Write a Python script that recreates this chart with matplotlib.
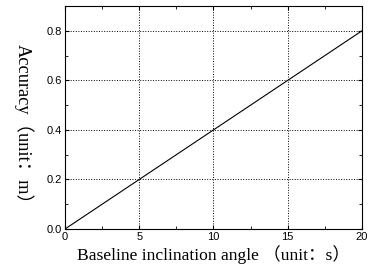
import matplotlib
matplotlib.use("Agg")
import matplotlib.pyplot as plt
from matplotlib.ticker import MultipleLocator

angle = [0, 5, 10, 15, 20]
accuracy = [0.0, 0.2, 0.4, 0.6, 0.8]

fig = plt.figure(figsize=(3.69, 2.73), dpi=100)
ax = fig.add_axes([0.176, 0.161, 0.805, 0.817])

ax.plot(angle, accuracy, color='black', linewidth=0.8)

ax.set_xlim(0, 20)
ax.set_ylim(0, 0.9)
ax.xaxis.set_major_locator(MultipleLocator(5))
ax.xaxis.set_minor_locator(MultipleLocator(2.5))
ax.yaxis.set_major_locator(MultipleLocator(0.2))
ax.yaxis.set_minor_locator(MultipleLocator(0.1))
ax.yaxis.set_major_formatter(plt.FormatStrFormatter('%.1f'))

ax.grid(True, which='major', color='black', linestyle=':', linewidth=0.7)
ax.tick_params(which='both', direction='in', top=True, right=True,
               labelsize=8, pad=2)
ax.tick_params(which='major', length=3)
ax.tick_params(which='minor', length=2)
for lbl in ax.get_xticklabels() + ax.get_yticklabels():
    lbl.set_family('Liberation Sans')
for s in ax.spines.values():
    s.set_linewidth(0.8)

fam = ['Liberation Serif', 'Noto Sans CJK SC']
ax.set_xlabel('Baseline inclination angle （unit：s）', family=fam, fontsize=12.6)
ax.xaxis.set_label_coords(0.5, -0.07)
ax.set_ylabel('Accuracy（unit：m）', family=fam, fontsize=13.2, rotation=-90)
ax.yaxis.set_label_coords(-0.172, 0.45)

fig.savefig('out.png', dpi=100)
